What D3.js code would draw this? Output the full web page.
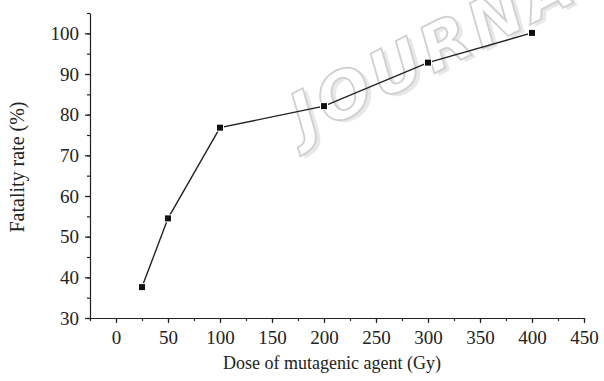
<!DOCTYPE html>
<html>
<head>
<meta charset="utf-8">
<script src="https://cdn.jsdelivr.net/npm/d3@7"></script>
<style>
  body { margin: 0; background: #fff; }
  svg { display: block; }
  .axis path, .axis line { stroke: #222; stroke-width: 1.2; }
  .axis-title { font-family: "Liberation Serif", "Times New Roman", serif; fill: #222; }
  .watermark { font-family: "DejaVu Sans", sans-serif; font-weight: bold; font-style: italic; font-size: 64px; letter-spacing: 5px; }
</style>
</head>
<body>
<svg id="chart"></svg>
<script>
// Data
const doses = [25, 50, 100, 200, 300, 400];
const fatality = [37.6, 54.5, 76.8, 82.1, 92.8, 100.1];
const xTicks = [0, 50, 100, 150, 200, 250, 300, 350, 400, 450];
const yTicks = [30, 40, 50, 60, 70, 80, 90, 100];

const config = {
  containerWidth: 604,
  containerHeight: 381,
  margin: {top: 13, right: 20, bottom: 63, left: 90}
};

const width = config.containerWidth - config.margin.left - config.margin.right;
const height = config.containerHeight - config.margin.top - config.margin.bottom;

const svg = d3.select('#chart')
    .attr('width', config.containerWidth)
    .attr('height', config.containerHeight);

// faint journal watermark behind the plot
const wm = svg.append('g')
    .attr('transform', 'translate(304,140) rotate(-27)');
wm.append('text')
    .attr('class', 'watermark')
    .attr('x', 3).attr('y', 4)
    .attr('fill', '#e8e8e8')
    .text('JOURNAL');
wm.append('text')
    .attr('class', 'watermark')
    .attr('fill', '#fff')
    .attr('stroke', '#d0d0d0')
    .attr('stroke-width', 1.8)
    .text('JOURNAL');

const chart = svg.append('g')
    .attr('transform', `translate(${config.margin.left},${config.margin.top})`);

const xScale = d3.scaleLinear().domain([-25, 450]).range([0, width]);
const yScale = d3.scaleLinear().domain([30, 105]).range([height, 0]);

// minor ticks first
chart.append('g')
    .attr('class', 'axis')
    .attr('transform', `translate(0,${height})`)
    .call(d3.axisBottom(xScale).tickValues(d3.range(-25, 451, 25)).tickSize(3).tickFormat(''))
    .call(g => g.select('.domain').remove());

chart.append('g')
    .attr('class', 'axis')
    .call(d3.axisLeft(yScale).tickValues(d3.range(30, 106, 5)).tickSize(3).tickFormat(''))
    .call(g => g.select('.domain').remove());

// major ticks with labels
const xAxisG = chart.append('g')
    .attr('class', 'axis x-axis')
    .attr('transform', `translate(0,${height})`)
    .call(d3.axisBottom(xScale).tickValues(xTicks).tickSize(5).tickSizeOuter(0).tickPadding(8));

const yAxisG = chart.append('g')
    .attr('class', 'axis y-axis')
    .call(d3.axisLeft(yScale).tickValues(yTicks).tickSize(5).tickSizeOuter(0).tickPadding(6));

[xAxisG, yAxisG].forEach(g => g
    .attr('font-family', '"Liberation Serif", "Times New Roman", serif')
    .attr('font-size', 19)
    .selectAll('text').attr('fill', '#222'));

// series
const points = doses.map((d, i) => ({x: d, y: fatality[i]}));

const line = d3.line()
    .x(d => xScale(d.x))
    .y(d => yScale(d.y));

chart.append('path')
    .datum(points)
    .attr('fill', 'none')
    .attr('stroke', '#222')
    .attr('stroke-width', 1.4)
    .attr('d', line);

chart.selectAll('.marker')
    .data(points)
  .join('rect')
    .attr('class', 'marker')
    .attr('x', d => xScale(d.x) - 3)
    .attr('y', d => yScale(d.y) - 3)
    .attr('width', 6)
    .attr('height', 6)
    .attr('fill', '#111')
    .attr('stroke', '#fff')
    .attr('stroke-width', 2)
    .attr('paint-order', 'stroke');

// axis titles
svg.append('text')
    .attr('class', 'axis-title')
    .attr('font-size', 18)
    .attr('x', 332)
    .attr('y', 369)
    .attr('text-anchor', 'middle')
    .text('Dose of mutagenic agent (Gy)');

svg.append('text')
    .attr('class', 'axis-title')
    .attr('font-size', 20)
    .attr('transform', 'translate(24,167) rotate(-90)')
    .attr('text-anchor', 'middle')
    .text('Fatality rate (%)');
</script>
</body>
</html>
